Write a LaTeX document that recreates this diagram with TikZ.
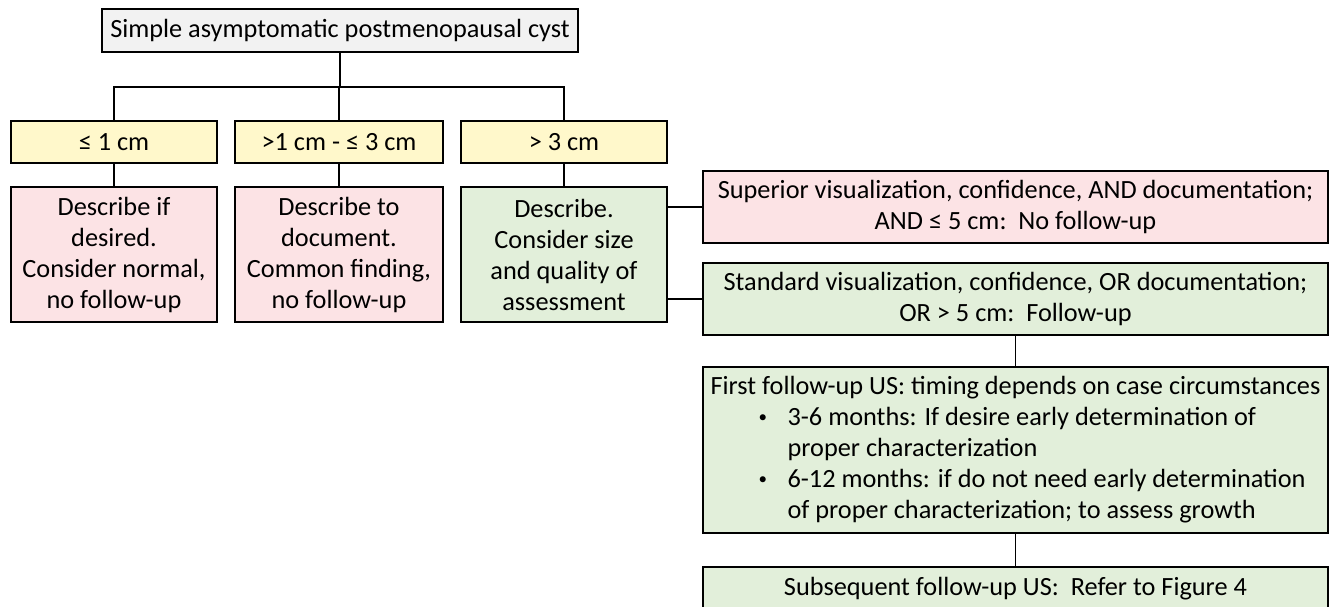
\documentclass[tikz,border=0pt]{standalone}
\usepackage{fontspec}
\setmainfont{Carlito}
\definecolor{cgray}{HTML}{F2F2F2}
\definecolor{cyel}{HTML}{FFF8CB}
\definecolor{cpink}{HTML}{FCE3E5}
\definecolor{cgreen}{HTML}{E2EFDA}
\newcommand{\smallbul}{\raisebox{0.28ex}{\fontsize{17}{17}\selectfont •}}
\tikzset{
  box/.style={draw=black, line width=1.8pt, inner sep=0pt, align=center,
    font=\fontsize{26.3}{31}\selectfont},
  conn/.style={draw=black, line width=1.6pt},
}
\begin{document}
\begin{tikzpicture}[x=1pt,y=-1pt]
\useasboundingbox (0,0) rectangle (1329,606);
\fill[white] (0,0) rectangle (1329,606);
% top
\node[box, fill=cgray, minimum width=476pt, minimum height=43pt] (top) at (340,30.5) {Simple asymptomatic postmenopausal cyst};
\coordinate (bar) at (339,87);
% size boxes
\node[box, fill=cyel, minimum width=206pt, minimum height=42pt] (y1) at (114,142) {≤ 1 cm};
\node[box, fill=cyel, minimum width=208pt, minimum height=42pt] (y2) at (339,142) {>1 cm - ≤ 3 cm};
\node[box, fill=cyel, minimum width=206pt, minimum height=42pt] (y3) at (564,142) {> 3 cm};
% descriptions
\node[box, fill=cpink, minimum width=206pt, minimum height=135pt] (p1) at (114,254.5) {Describe if\\desired.\\Consider normal,\\no follow-up};
\node[box, fill=cpink, minimum width=208pt, minimum height=135pt] (p2) at (339,254.5) {Describe to\\document.\\Common finding,\\no follow-up};
\node[box, fill=cgreen, minimum width=206pt, minimum height=135pt] (g3) at (564,254.5) {Describe.\\Consider size\\and quality of\\assessment};
% right column
\node[box, fill=cpink, minimum width=625pt, minimum height=72pt] (sup) at (1015.5,207) {Superior visualization, confidence, AND documentation;\\AND ≤ 5 cm:\ \ No follow-up};
\node[box, fill=cgreen, minimum width=625pt, minimum height=72pt] (std) at (1015.5,299) {Standard visualization, confidence, OR documentation;\\OR > 5 cm:\ \ Follow-up};
\node[box, fill=cgreen, minimum width=625pt, minimum height=166pt, align=left] (first) at (1015.5,450) {First follow-up US: timing depends on case circumstances\\
\hspace*{48pt}\makebox[29pt][l]{\smallbul}3-6 months: If desire early determination of\\
\hspace*{77pt}proper characterization\\
\hspace*{48pt}\makebox[29pt][l]{\smallbul}6-12 months: if do not need early determination\\
\hspace*{77pt}of proper characterization; to assess growth};
\node[box, fill=cgreen, minimum width=625pt, minimum height=44pt] (sub) at (1015.5,589) {Subsequent follow-up US:\ \ Refer to Figure 4};
% connectors
\draw[conn] (top.south) -- (top.south |- bar);
\draw[conn] (y1.north) |- (y3.north |- bar) -- (y3.north);
\draw[conn] (y2.north) -- (y2.north |- bar);
\draw[conn] (y1.south) -- (p1.north);
\draw[conn] (y2.south) -- (p2.north);
\draw[conn] (y3.south) -- (g3.north);
\draw[conn] (g3.east |- sup.west) -- (sup.west);
\draw[conn] (g3.east |- std.west) -- (std.west);
\draw[conn] (std.south) -- (first.north);
\draw[conn] (first.south) -- (sub.north);
\end{tikzpicture}
\end{document}
